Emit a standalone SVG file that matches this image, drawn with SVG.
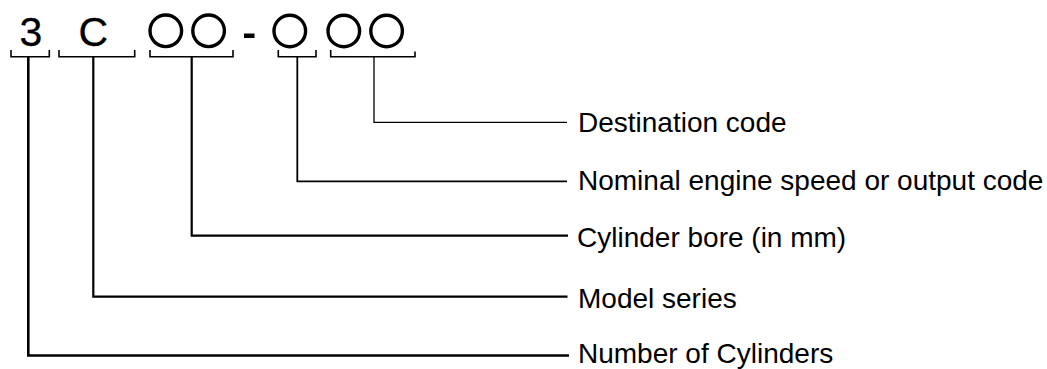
<svg xmlns="http://www.w3.org/2000/svg" width="1047" height="369" viewBox="0 0 1047 369">
<style>
.big{font-family:"Liberation Sans",Arial,sans-serif;font-size:41px;fill:#000;stroke:#000;stroke-width:0.3;text-anchor:middle}
.lbl{font-family:"Liberation Sans",Arial,sans-serif;font-size:28px;fill:#000}
.ring{fill:none;stroke:#000;stroke-width:3.4}
.br{fill:none;stroke:#000;stroke-width:1.6}
.ln{fill:none;stroke:#000}
</style>
<rect width="1047" height="369" fill="#fff"/>
<g id="code">
<text class="big" x="31" y="45.7">3</text>
<text class="big" x="93.3" y="45.7">C</text>
<circle class="ring" cx="165.8" cy="30.8" r="15.8"/>
<circle class="ring" cx="208.6" cy="30.8" r="15.8"/>
<rect x="244" y="33.5" width="10.5" height="4.5" fill="#000"/>
<circle class="ring" cx="289.8" cy="31" r="15.8"/>
<circle class="ring" cx="343.8" cy="31" r="15.8"/>
<circle class="ring" cx="386.6" cy="31" r="15.8"/>
</g>
<g id="brackets">
<path class="br" d="M11,50 V56.7 H49.3 V50"/>
<path class="br" d="M59,50 V56.7 H134.7 V50"/>
<path class="br" d="M150,50 V56.7 H233 V50"/>
<path class="br" d="M278.3,50 V56.7 H316 V50"/>
<path class="br" d="M330.7,50 V56.7 H415 V51.5"/>
</g>
<g id="connectors">
<path class="ln" stroke-width="1.3" d="M374,56.7 V122.3 H567"/>
<path class="ln" stroke-width="1.8" d="M297.3,56.7 V181.3 H567"/>
<path class="ln" stroke-width="2.2" d="M191.7,56.7 V235.7 H568"/>
<path class="ln" stroke-width="2.2" d="M93.3,56.7 V296.7 H567.5"/>
<path class="ln" stroke-width="2.6" d="M28.3,56.7 V355.5 H569"/>
</g>
<g id="label-destination"><text class="lbl" x="578" y="131.5">Destination code</text></g>
<g id="label-speed"><text class="lbl" x="578" y="190">Nominal engine speed or output code</text></g>
<g id="label-bore"><text class="lbl" x="577" y="247">Cylinder bore (in mm)</text></g>
<g id="label-series"><text class="lbl" x="578" y="308">Model series</text></g>
<g id="label-cylinders"><text class="lbl" x="578" y="362.5">Number of Cylinders</text></g>
</svg>
